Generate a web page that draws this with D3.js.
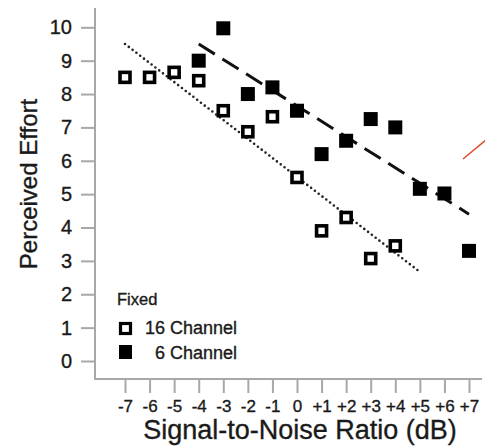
<!DOCTYPE html>
<html>
<head>
<meta charset="utf-8">
<script src="https://cdn.jsdelivr.net/npm/d3@7"></script>
<style>
  html, body { margin: 0; padding: 0; background: #fff; }
  svg { display: block; }
  text { font-family: "Liberation Sans", Arial, Helvetica, sans-serif; fill: #1a1a1a; stroke: #1a1a1a; stroke-width: 0.35px; }
</style>
</head>
<body>
<svg id="chart" width="485" height="447"></svg>
<script>
// --- data ---
const snrTicks = [-7, -6, -5, -4, -3, -2, -1, 0, 1, 2, 3, 4, 5, 6, 7];
const effortTicks = [0, 1, 2, 3, 4, 5, 6, 7, 8, 9, 10];

const snr16 = [-7, -6, -5, -4, -3, -2, -1, 0, 1, 2, 3, 4];
const effort16 = [8.5, 8.5, 8.65, 8.4, 7.5, 6.87, 7.32, 5.5, 3.9, 4.3, 3.07, 3.45];

const snr6 = [-4, -3, -2, -1, 0, 1, 2, 3, 4, 5, 6, 7];
const effort6 = [9.0, 9.97, 8.0, 8.2, 7.5, 6.2, 6.6, 7.25, 7.0, 5.16, 5.02, 3.3];

// regression lines (end points)
const fit16 = [[-7, 9.5], [5, 2.67]];
const fit6 = [[-4, 9.5], [7, 4.4]];

const legendTitle = 'Fixed';
const legendLabels = ['16 Channel', '6 Channel'];

const svg = d3.select('#chart');

const x = d3.scaleLinear().domain([-7, 7]).range([125, 469]);
const y = d3.scaleLinear().domain([0, 10]).range([361, 27.3]);

const axisColor = '#a8a8a8';
const axisLeft = 95, axisBottom = 379;

// axis lines
svg.append('line')
    .attr('x1', axisLeft).attr('x2', axisLeft)
    .attr('y1', 8).attr('y2', axisBottom)
    .attr('stroke', axisColor).attr('stroke-width', 2);
svg.append('line')
    .attr('x1', axisLeft - 1).attr('x2', 482)
    .attr('y1', axisBottom).attr('y2', axisBottom)
    .attr('stroke', axisColor).attr('stroke-width', 2);

// y axis
const yAxis = d3.axisLeft(y).tickValues(effortTicks).tickSize(14).tickPadding(9);
const gy = svg.append('g').attr('transform', `translate(${axisLeft},0)`).call(yAxis);
gy.select('.domain').remove();
gy.selectAll('.tick line').attr('stroke', axisColor).attr('stroke-width', 2);
gy.selectAll('.tick text')
    .attr('font-size', 20).attr('fill', '#1a1a1a')
    .attr('font-family', '"Liberation Sans", Arial, sans-serif');

// x axis
const fmt = d => d > 0 ? '+' + d : String(d);
const xAxis = d3.axisBottom(x).tickValues(snrTicks).tickSize(13).tickPadding(7).tickFormat(fmt);
const gx = svg.append('g').attr('transform', `translate(0,${axisBottom + 1})`).call(xAxis);
gx.select('.domain').remove();
gx.selectAll('.tick line').attr('stroke', axisColor).attr('stroke-width', 2);
gx.selectAll('.tick text')
    .attr('font-size', 17).attr('fill', '#1a1a1a')
    .attr('font-family', '"Liberation Sans", Arial, sans-serif');

// axis titles
svg.append('text')
    .attr('transform', 'translate(300,439)')
    .attr('text-anchor', 'middle')
    .attr('font-size', 27)
    .text('Signal-to-Noise Ratio (dB)');
svg.append('text')
    .attr('transform', 'translate(37,184) rotate(-90)')
    .attr('text-anchor', 'middle')
    .attr('font-size', 24)
    .text('Perceived Effort');

// trend lines
const line = d3.line().x(d => x(d[0])).y(d => y(d[1]));
svg.append('path').datum(fit16)
    .attr('d', line).attr('fill', 'none')
    .attr('stroke', '#222').attr('stroke-width', 2.6)
    .attr('stroke-linecap', 'round')
    .attr('stroke-dasharray', '0,4.8');
svg.append('path').datum(fit6)
    .attr('d', line).attr('fill', 'none')
    .attr('stroke', '#111').attr('stroke-width', 3)
    .attr('stroke-dasharray', '19,9');

// 16 channel: open squares
const s16 = 10;
svg.append('g').selectAll('rect')
  .data(snr16.map((d, i) => [d, effort16[i]]))
  .join('rect')
    .attr('x', d => x(d[0]) - s16 / 2)
    .attr('y', d => y(d[1]) - s16 / 2)
    .attr('width', s16).attr('height', s16)
    .attr('fill', '#fff').attr('stroke', '#000').attr('stroke-width', 3.6);

// 6 channel: filled squares
const s6 = 14;
svg.append('g').selectAll('rect')
  .data(snr6.map((d, i) => [d, effort6[i]]))
  .join('rect')
    .attr('x', d => x(d[0]) - s6 / 2)
    .attr('y', d => y(d[1]) - s6 / 2)
    .attr('width', s6).attr('height', s6)
    .attr('fill', '#000');

// legend
const legend = svg.append('g');
legend.append('text')
    .attr('x', 117).attr('y', 305)
    .attr('font-size', 16.5).attr('fill', '#333').attr('stroke', '#333').attr('stroke-width', 0.2)
    .text(legendTitle);
legend.append('rect')
    .attr('x', 120.5).attr('y', 323.5).attr('width', 10).attr('height', 10)
    .attr('fill', '#fff').attr('stroke', '#000').attr('stroke-width', 3.2);
legend.append('rect')
    .attr('x', 119).attr('y', 345).attr('width', 13).attr('height', 14)
    .attr('fill', '#000');
legend.append('text')
    .attr('x', 237).attr('y', 334)
    .attr('text-anchor', 'end').attr('font-size', 18)
    .text(legendLabels[0]);
legend.append('text')
    .attr('x', 237).attr('y', 359)
    .attr('text-anchor', 'end').attr('font-size', 18)
    .text(legendLabels[1]);

// stray red annotation stroke at the right edge
svg.append('line')
    .attr('x1', 463).attr('y1', 159).attr('x2', 486).attr('y2', 140)
    .attr('stroke', '#e04a2e').attr('stroke-width', 1.5);
</script>
</body>
</html>
